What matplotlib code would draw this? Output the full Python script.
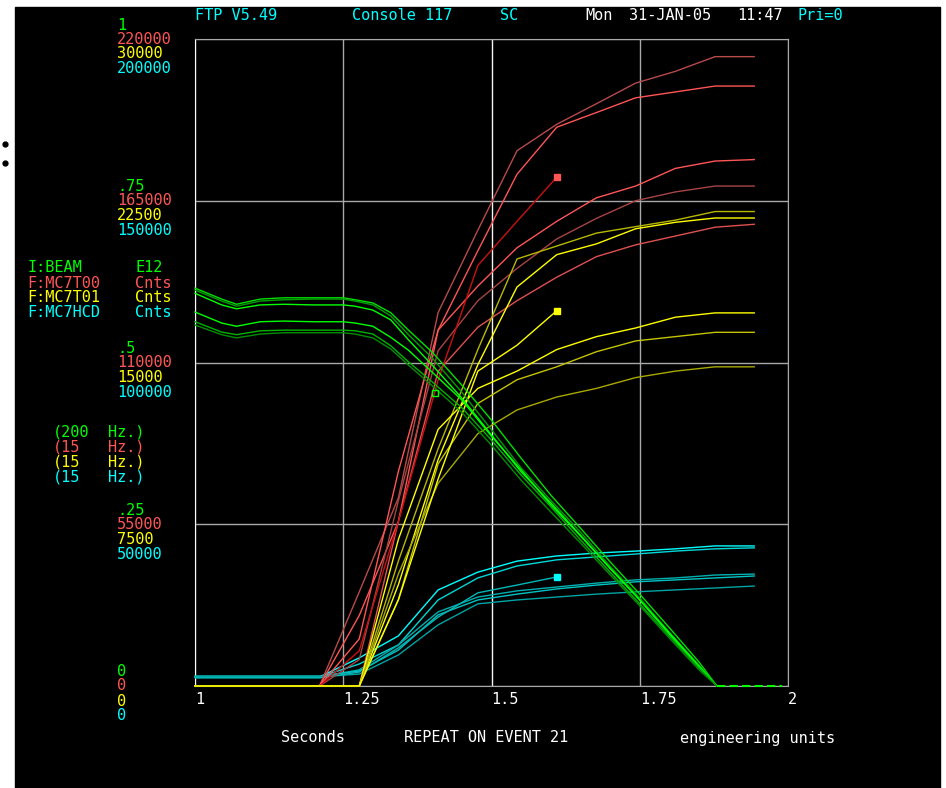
import matplotlib.pyplot as plt
from matplotlib.patches import Rectangle
from matplotlib.lines import Line2D
from matplotlib.transforms import blended_transform_factory, ScaledTranslation

plt.rcParams['font.family'] = ['DejaVu Sans Mono']

# sample times (s): 15 Hz channels and 200 Hz beam channel
t15 = [1.0, 1.21, 1.277, 1.343, 1.41, 1.477, 1.543, 1.61, 1.677, 1.743, 1.81, 1.877, 1.943]
t200 = [1.0, 1.045, 1.07, 1.11, 1.15, 1.2, 1.25, 1.27, 1.3, 1.33, 1.36, 1.4, 1.45,
        1.5, 1.55, 1.6, 1.65, 1.7, 1.75, 1.8, 1.85, 1.88, 1.99]

# I:BEAM  (E12)
beam = [
    [0.615, 0.598, 0.590, 0.598, 0.600, 0.600, 0.600, 0.597, 0.592, 0.577, 0.550, 0.516, 0.465,
     0.411, 0.352, 0.295, 0.244, 0.192, 0.142, 0.090, 0.037, 0, 0],
    [0.612, 0.595, 0.587, 0.595, 0.597, 0.598, 0.598, 0.595, 0.589, 0.572, 0.543, 0.507, 0.454,
     0.396, 0.337, 0.287, 0.238, 0.185, 0.136, 0.083, 0.032, 0, 0],
    [0.607, 0.589, 0.583, 0.589, 0.590, 0.589, 0.589, 0.587, 0.581, 0.566, 0.535, 0.496, 0.445,
     0.388, 0.331, 0.283, 0.233, 0.182, 0.133, 0.082, 0.031, 0, 0],
    [0.578, 0.561, 0.556, 0.563, 0.564, 0.563, 0.563, 0.561, 0.556, 0.539, 0.519, 0.485, 0.442,
     0.386, 0.334, 0.280, 0.232, 0.182, 0.133, 0.080, 0.029, 0, 0],
    [0.563, 0.547, 0.543, 0.549, 0.550, 0.550, 0.550, 0.549, 0.544, 0.526, 0.501, 0.470, 0.430,
     0.380, 0.326, 0.277, 0.226, 0.176, 0.127, 0.077, 0.028, 0, 0],
    [0.558, 0.543, 0.538, 0.544, 0.546, 0.546, 0.546, 0.544, 0.538, 0.521, 0.496, 0.464, 0.423,
     0.372, 0.318, 0.269, 0.221, 0.172, 0.124, 0.074, 0.025, 0, 0],
]
beam_mark = (1.405, 0.453)

# F:MC7T00 (Cnts)
mc7t00 = [
    [0, 0, 32000, 64000, 127000, 155000, 182000, 191000, 198000, 205000, 209000, 214000, 214000],
    [0, 0, 24000, 56000, 121000, 148000, 174000, 190000, 195000, 200000, 202000, 204000, 204000],
    [0, 0, 16000, 73000, 121000, 136000, 149000, 158000, 166000, 170000, 176000, 178500, 179000],
    [0, 0, 9000, 63000, 114000, 131000, 142000, 152000, 159000, 165000, 168000, 170000, 170000],
    [0, 0, 0, 56000, 107000, 122000, 131000, 139000, 146000, 150000, 153000, 156000, 157000],
]
mc7t00_last = [0, 0, 12000, 56000, 104000, 143000, 158000, 173000]

# F:MC7T01 (Cnts)
mc7t01 = [
    [0, 0, 0, 5800, 11000, 15600, 19800, 20400, 21000, 21300, 21600, 22000, 22000],
    [0, 0, 0, 4700, 10500, 14900, 18500, 20000, 20500, 21200, 21500, 21700, 21700],
    [0, 0, 0, 6800, 11900, 13800, 14600, 15600, 16200, 16600, 17100, 17300, 17300],
    [0, 0, 0, 4000, 10300, 13100, 14200, 14800, 15500, 16000, 16200, 16400, 16400],
    [0, 0, 0, 5200, 9400, 11700, 12800, 13400, 13800, 14300, 14600, 14800, 14800],
]
mc7t01_last = [0, 0, 0, 4000, 9600, 14600, 15800, 17400]

# F:MC7HCD (Cnts)
mc7hcd = [
    [2800, 2800, 8700, 15500, 29700, 35200, 38600, 40200, 41100, 41700, 42400, 43300, 43300],
    [2800, 2800, 6800, 12700, 26600, 33400, 37100, 39000, 39900, 40800, 41700, 42400, 42700],
    [2800, 2800, 5000, 12700, 22900, 27500, 29400, 30600, 31800, 32800, 33400, 34300, 34600],
    [3100, 3100, 4600, 11100, 22000, 26600, 28400, 30000, 31200, 32200, 32800, 33400, 34000],
    [2800, 2800, 3700, 9600, 18900, 25400, 26600, 27500, 28400, 29100, 29700, 30300, 30900],
]
mc7hcd_last = [2500, 2500, 4300, 11800, 21300, 28800, 31200, 33700]

# axis labels for each channel
beam_ticks = ['0', '.25', '.5', '.75', '1']
t00_ticks = ['0', '55000', '110000', '165000', '220000']
t01_ticks = ['0', '7500', '15000', '22500', '30000']
hcd_ticks = ['0', '50000', '100000', '150000', '200000']
x_ticks = ['1', '1.25', '1.5', '1.75', '2']

GREEN, RED, YELLOW, CYAN = '#00ff00', '#ff5555', '#ffff00', '#00ffff'

W, H = 946, 788


def fx(px):
    return px / W


def fy(py):
    return 1 - py / H


fig = plt.figure(figsize=(W / 100, H / 100), dpi=100, facecolor='white')
# black screen area with a white margin
fig.add_artist(Rectangle((fx(15), 0), fx(940) - fx(15), fy(7), transform=fig.transFigure,
                         color='black', zorder=-5))
for py in (144, 163):
    fig.add_artist(Line2D([fx(5)], [fy(py)], marker='o', ms=3.5, color='black',
                          transform=fig.transFigure))

ax = fig.add_axes([fx(195), fy(686), fx(788) - fx(195), fy(39) - fy(686)])
ax.set_facecolor('black')
ax.set_xlim(1, 2)
ax.set_ylim(0, 1)
ax.set_xticks([float(s) for s in x_ticks], labels=x_ticks)
ax.set_yticks([0, 0.25, 0.5, 0.75, 1])
ax.tick_params(axis='x', colors='white', length=0, pad=4, labelsize=11)
ax.tick_params(axis='y', length=0, labelleft=False)
for lab in ax.get_xticklabels():
    lab.set_ha('left')
ax.grid(True, color='#a8a8a8', lw=1)
ax.get_xgridlines()[2].set_color('#f4f4f4')
for side in ['top', 'right', 'bottom']:
    ax.spines[side].set_color('#a8a8a8')
ax.spines['left'].set_color('white')


def channel_axes(top):
    a = ax.twinx()
    a.set_ylim(0, top)
    a.set_yticks([])
    for sp in a.spines.values():
        sp.set_visible(False)
    return a


ax_hcd = channel_axes(200000)
ax_t00 = channel_axes(220000)
ax_t01 = channel_axes(30000)
ax_beam = channel_axes(1)

# cyan
hcd_cols = ['#00ffff', '#00d8d8', '#00b0b0', '#00c4c4', '#00a4a4']
for ys, c in zip(mc7hcd, hcd_cols):
    ax_hcd.plot(t15, ys, color=c, lw=1, clip_on=False)
ax_hcd.plot(t15[:len(mc7hcd_last)], mc7hcd_last, color='#00b8b8', lw=1)
ax_hcd.plot(t15[len(mc7hcd_last) - 1], mc7hcd_last[-1], 's', ms=5, color=CYAN)

# red
t00_cols = ['#b84a4a', '#ff5555', '#ff5555', '#a84444', '#e05050']
for ys, c in zip(mc7t00, t00_cols):
    ax_t00.plot(t15, ys, color=c, lw=1, clip_on=False)
ax_t00.plot(t15[:len(mc7t00_last)], mc7t00_last, color='#cc1010', lw=1, clip_on=False)
ax_t00.plot(t15[len(mc7t00_last) - 1], mc7t00_last[-1], 's', ms=5, color=RED)

# yellow
t01_cols = ['#b8b800', '#ffff00', '#ffff00', '#c4c400', '#a8a800']
for ys, c in zip(mc7t01, t01_cols):
    ax_t01.plot(t15, ys, color=c, lw=1, clip_on=False)
ax_t01.plot(t15[:len(mc7t01_last)], mc7t01_last, color='#ffff00', lw=1, clip_on=False)
ax_t01.plot(t15[len(mc7t01_last) - 1], mc7t01_last[-1], 's', ms=5, color=YELLOW)

# green beam, flat tail dashed
beam_cols = ['#00e000', '#00a000', '#00ff00', '#00ff00', '#00b400', '#009000']
for ys, c in zip(beam, beam_cols):
    ax_beam.plot(t200[:-1], ys[:-1], color=c, lw=1, clip_on=False)
ax_beam.plot(t200[-2:], beam[0][-2:], color=GREEN, lw=1.5, ls=(0, (4, 2)), clip_on=False)
ax_beam.plot(*beam_mark, 's', ms=5, mfc='none', mec=GREEN)

# stacked scale labels on the left, one colour per channel
for a, labels, dy, col in [(ax_beam, beam_ticks, 0.14, GREEN), (ax_t00, t00_ticks, 0.0, RED),
                           (ax_t01, t01_ticks, -0.15, YELLOW), (ax_hcd, hcd_ticks, -0.30, CYAN)]:
    tr = blended_transform_factory(fig.transFigure, a.transData) + \
        ScaledTranslation(0, dy, fig.dpi_scale_trans)
    top = a.get_ylim()[1]
    for i, s in enumerate(labels):
        a.text(fx(117), top * i / 4, s, transform=tr, color=col, fontsize=11,
               ha='left', va='center')

# header
for x, s, c in [(195, 'FTP V5.49', CYAN), (352, 'Console 117', CYAN), (500, 'SC', CYAN),
                (585, 'Mon', 'white'), (629, '31-JAN-05', 'white'), (737, '11:47', 'white'),
                (797, 'Pri=0', CYAN)]:
    fig.text(fx(x), fy(15), s, color=c, fontsize=11, ha='left', va='center')

# legend block
for y, name, unit, col in [(268, 'I:BEAM', 'E12', GREEN), (283, 'F:MC7T00', 'Cnts', RED),
                           (297, 'F:MC7T01', 'Cnts', YELLOW), (312, 'F:MC7HCD', 'Cnts', CYAN)]:
    fig.text(fx(27), fy(y), name, color=col, fontsize=11, ha='left', va='center')
    fig.text(fx(135), fy(y), unit, color=col, fontsize=11, ha='left', va='center')

for y, rate, col in [(432, '(200', GREEN), (447, '(15', RED), (462, '(15', YELLOW), (477, '(15', CYAN)]:
    fig.text(fx(53), fy(y), rate, color=col, fontsize=11, ha='left', va='center')
    fig.text(fx(108), fy(y), 'Hz.)', color=col, fontsize=11, ha='left', va='center')

# footer
for x, s in [(281, 'Seconds'), (404, 'REPEAT ON EVENT 21'), (680, 'engineering units')]:
    fig.text(fx(x), fy(738), s, color='white', fontsize=11, ha='left', va='center')

fig.savefig('out.png', dpi=100, facecolor=fig.get_facecolor())
